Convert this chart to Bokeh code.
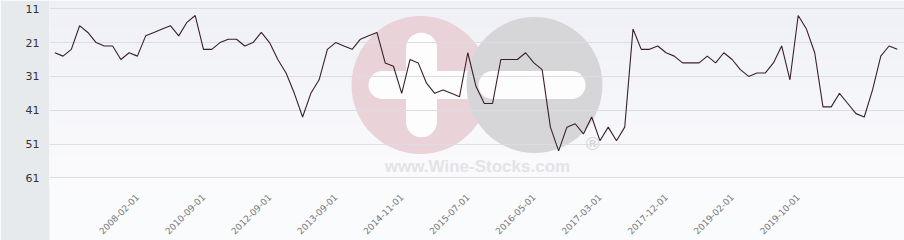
import numpy as np
from bokeh.plotting import figure
from bokeh.models import Range1d, FixedTicker
from bokeh.core.properties import value
from bokeh.embed import file_html
from bokeh.resources import INLINE

# ---- data (rank over time) ----
ranks = [24, 25, 23, 16, 18, 21, 22, 22, 26, 24, 25, 19, 18, 17, 16, 19, 15, 13, 23, 23,
         21, 20, 20, 22, 21, 18, 21, 26, 30, 36, 43, 36, 32, 23, 21, 22, 23, 20, 19, 18,
         27, 28, 36, 26, 27, 33, 36, 35, 36, 37, 24, 34, 39, 39, 26, 26, 26, 24, 27, 29,
         46, 53, 46, 45, 48, 43, 50, 46, 50, 46, 17, 23, 23, 22, 24, 25, 27, 27, 27, 25,
         27, 24, 26, 29, 31, 30, 30, 27, 22, 32, 13, 17, 24, 40, 40, 36, 39, 42, 43, 35,
         25, 22, 23]
tick_labels = ["2008-02-01", "2010-09-01", "2012-09-01", "2013-09-01", "2014-11-01",
               "2015-07-01", "2016-05-01", "2017-03-01", "2017-12-01", "2019-02-01",
               "2019-10-01"]
tick_index = [10, 18, 26, 34, 42, 50, 58, 66, 74, 82, 90]
y_ticks = [11, 21, 31, 41, 51, 61]

idx = list(range(len(ranks)))

W, H = 904, 240
LEFT, BOTTOM = 49, 54
FW, FH = W - LEFT, H - BOTTOM
X0, X1 = -0.642, 102.87
YT = 8.55
YB = 11 + (FH - 8.33) / 3.4

def dx(px):
    return X0 + (px - LEFT) / FW * (X1 - X0)

def dy(py):
    return YT + py / FH * (YB - YT)

p = figure(width=W, height=H, output_backend="svg", toolbar_location=None,
           x_range=Range1d(X0, X1), y_range=Range1d(YB, YT),
           min_border_left=LEFT, min_border_right=0, min_border_top=0,
           min_border_bottom=BOTTOM)
p.border_fill_color = "#e7eaed"
p.background_fill_color = "#f6f7fa"
p.outline_line_color = None

# vertical gradient background
n = 40
edges = np.linspace(YT, YB, n + 1)
c0 = np.array([0xee, 0xf0, 0xf5])
c1 = np.array([0xfb, 0xfb, 0xfd])
cols = []
for k in range(n):
    t = k / (n - 1)
    c = (c0 * (1 - t) + c1 * t).round().astype(int)
    cols.append("#%02x%02x%02x" % tuple(c))
p.quad(left=X0 - 1, right=X1 + 1, top=edges[:-1], bottom=edges[1:],
       fill_color=cols, line_color=None, level="image")

# watermark
pink = "#ead2d9"
grey = "#d6d6d9"
white = "#fdfdfe"
p.scatter(x=[dx(420)], y=[dy(85)], size=138, marker="circle", fill_color=pink,
          line_color=None, level="image")
p.segment(x0=[dx(382)], y0=[dy(85)], x1=[dx(470)], y1=[dy(85)], line_width=28,
          line_color=white, line_cap="round", level="image")
p.segment(x0=[dx(421)], y0=[dy(48)], x1=[dx(421)], y1=[dy(122)], line_width=31,
          line_color=white, line_cap="round", level="image")
p.scatter(x=[dx(534)], y=[dy(85)], size=136, marker="circle", fill_color=grey,
          line_color=None, level="image")
p.segment(x0=[dx(492)], y0=[dy(85)], x1=[dx(571)], y1=[dy(85)], line_width=28,
          line_color=white, line_cap="round", level="image")
p.text(x=[dx(477)], y=[dy(167)], text=["www.Wine-Stocks.com"],
       text_font=value("Liberation Sans"), text_font_style="bold",
       text_font_size="17px", text_color="#e3e3e6", text_align="center",
       text_baseline="middle", level="image")
p.text(x=[dx(592)], y=[dy(144)], text=["®"], text_font=value("DejaVu Sans"),
       text_font_size="18px", text_color="#d2d2d5", text_align="center",
       text_baseline="middle", level="image")

# data line
p.line(idx, ranks, line_color="#3a1f2c", line_width=1.1)

# grid / axes
p.xgrid.visible = False
p.ygrid.grid_line_color = "#dcdde2"
p.ygrid.grid_line_width = 1
p.yaxis.ticker = FixedTicker(ticks=y_ticks)
p.yaxis.axis_line_color = None
p.yaxis.major_tick_line_color = None
p.yaxis.minor_tick_line_color = None
p.yaxis.major_label_standoff = 4
p.yaxis.major_label_text_font = "DejaVu Sans"
p.yaxis.major_label_text_font_size = "11px"
p.yaxis.major_label_text_color = "#333333"

p.xaxis.ticker = FixedTicker(ticks=tick_index)
p.xaxis.major_label_overrides = {i: s for i, s in zip(tick_index, tick_labels)}
p.xaxis.major_label_orientation = np.pi / 4
p.xaxis.axis_line_color = None
p.xaxis.major_tick_line_color = None
p.xaxis.minor_tick_line_color = None
p.xaxis.major_label_standoff = 4
p.xaxis.major_label_text_font = "DejaVu Sans"
p.xaxis.major_label_text_font_size = "9px"
p.xaxis.major_label_text_color = "#777777"
try:
    p.xaxis.background_fill_color = "#fafbfc"
except Exception:
    pass

open("out.html", "w").write(file_html(p, INLINE))
